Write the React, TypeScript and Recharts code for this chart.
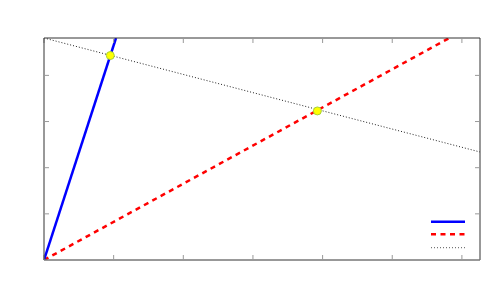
import React from 'react';
import { ComposedChart, Line, Scatter, XAxis, YAxis, Legend } from 'recharts';

const xTicks = [0, 1, 2, 3, 4, 5, 6];
const yTicks = [0, 1, 2, 3, 4];
const blueLine = [
  { x: 0, y: 0 },
  { x: 1.034, y: 4.81 },
];
const redLine = [
  { x: 0, y: 0 },
  { x: 5.82, y: 4.81 },
];
const blackLine = [
  { x: 0, y: 4.81 },
  { x: 6.26, y: 2.34 },
];
const crossings = [
  { x: 0.952, y: 4.43 },
  { x: 3.925, y: 3.23 },
];

const FRAME = '#333';
const TICK = '#999';

const LegendBox = () => (
  <svg width={36} height={36} style={{ display: 'block' }}>
    <line x1={0} x2={34} y1={5.7} y2={5.7} stroke="#0000ff" strokeWidth={2.5} />
    <line x1={0} x2={34} y1={18.3} y2={18.3} stroke="#ff0000" strokeWidth={2.5} strokeDasharray="5 4.5" />
    <line x1={0} x2={34} y1={31.7} y2={31.7} stroke="#555" strokeWidth={1} strokeDasharray="1 2" />
  </svg>
);

const Dot = (props: any) => (
  <circle cx={props.cx} cy={props.cy} r={4} fill="#ffff00" stroke="#a6d23a" strokeWidth={1} />
);

const common = {
  type: 'number' as const,
  allowDataOverflow: true,
  mirror: true,
  tickSize: 5,
  tickFormatter: () => '',
  axisLine: { stroke: FRAME },
  tickLine: { stroke: TICK },
};

export default function App() {
  return (
    <ComposedChart width={484} height={292} margin={{ top: 30, right: 12, bottom: 40, left: 36 }}>
      <XAxis xAxisId={0} dataKey="x" domain={[0, 6.26]} ticks={xTicks} height={1} {...common} />
      <XAxis xAxisId="top" orientation="top" dataKey="x" domain={[0, 6.26]} ticks={xTicks} height={1} {...common} />
      <YAxis yAxisId={0} domain={[0, 4.81]} ticks={yTicks} width={1} {...common} />
      <YAxis yAxisId="right" orientation="right" domain={[0, 4.81]} ticks={yTicks} width={1} {...common} />
      <Line data={blackLine} dataKey="y" stroke="#222" strokeWidth={1} strokeDasharray="1 2" dot={false} isAnimationActive={false} />
      <Line data={redLine} dataKey="y" stroke="#ff0000" strokeWidth={2.5} strokeDasharray="5 4.5" dot={false} isAnimationActive={false} />
      <Line data={blueLine} dataKey="y" stroke="#0000ff" strokeWidth={2.5} dot={false} isAnimationActive={false} />
      <Scatter data={crossings} dataKey="y" shape={<Dot />} isAnimationActive={false} />
      <Legend
        layout="horizontal"
        verticalAlign="middle"
        align="center"
        content={() => <LegendBox />}
        wrapperStyle={{ position: 'absolute', left: 423, top: 208, width: 36, height: 36 }}
      />
    </ComposedChart>
  );
}
